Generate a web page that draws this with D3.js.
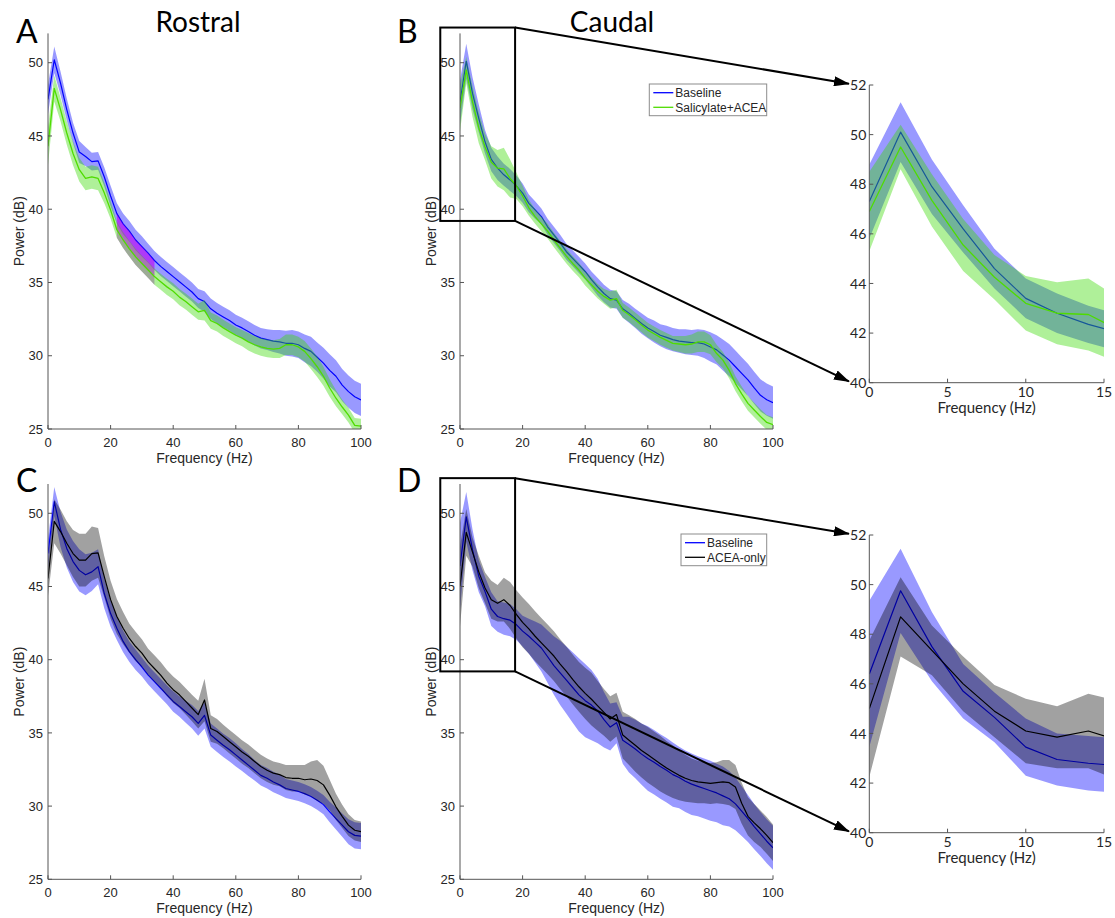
<!DOCTYPE html>
<html><head><meta charset="utf-8">
<script src="https://cdn.jsdelivr.net/npm/d3@7"></script>
<style>body{margin:0;background:#fff} svg{display:block}</style>
</head><body>
<svg id="fig" width="1115" height="918"></svg>
<script>
// ---------------- DATA ----------------
const freqs = [0,2,4,6,8,10,12,14,16,18,20,22,24,26,28,30,32,34,36,38,40,42,44,46,48,50,52,54,56,58,60,62,64,66,68,70,72,74,76,78,80,82,84,86,88,90,92,94,96,98,100];

// Panel A (Rostral): Baseline vs Salicylate+ACEA
const aBlueMean = [47.5,50.2,48.6,46.8,45.2,43.9,43.6,43.25,43.3,42.2,40.9,39.7,39.0,38.5,37.9,37.45,37.0,36.5,36.1,35.75,35.4,35.05,34.7,34.35,33.9,33.7,33.2,32.9,32.65,32.4,32.1,31.9,31.65,31.4,31.2,31.1,31.0,30.95,30.85,30.85,30.75,30.5,30.3,29.9,29.5,29.0,28.6,28.0,27.55,27.2,26.98];
const aBlueErr  = [1.0,0.9,0.8,0.75,0.7,0.75,0.65,0.6,0.6,0.65,0.7,0.7,0.7,0.7,0.7,0.7,0.65,0.65,0.65,0.65,0.65,0.65,0.65,0.65,0.65,0.7,0.7,0.7,0.7,0.7,0.7,0.7,0.7,0.7,0.7,0.7,0.75,0.8,0.85,0.9,0.9,0.95,1.0,1.0,1.05,1.1,1.1,1.1,1.1,1.1,1.1];
const aGreenMean = [44.3,48.25,46.8,45.2,43.8,42.7,42.1,42.2,42.1,41.1,39.95,38.6,37.9,37.3,36.75,36.3,35.85,35.4,35.05,34.7,34.4,34.0,33.7,33.35,33.0,33.1,32.4,32.2,31.9,31.65,31.4,31.2,30.95,30.75,30.6,30.5,30.45,30.5,30.75,30.75,30.6,30.3,29.8,29.25,28.6,27.8,27.1,26.5,25.95,25.25,25.2];
const aGreenErr  = [1.3,0.9,0.8,0.8,0.8,0.8,0.8,0.8,0.8,0.7,0.6,0.55,0.55,0.55,0.55,0.55,0.55,0.55,0.55,0.55,0.55,0.55,0.55,0.55,0.55,0.7,0.55,0.55,0.55,0.55,0.55,0.55,0.6,0.6,0.6,0.6,0.6,0.65,0.7,0.7,0.7,0.7,0.7,0.7,0.65,0.6,0.55,0.5,0.5,0.5,0.5];
const aOverlayRange = [22, 34];

// Panel B (Caudal): Baseline vs Salicylate+ACEA
const bBlueMean = [47.3,50.1,47.9,46.2,44.6,43.4,42.8,42.35,42.0,41.6,41.1,40.4,39.95,39.5,38.8,38.25,37.7,37.1,36.65,36.2,35.75,35.2,34.7,34.25,33.9,33.8,33.2,32.9,32.55,32.2,31.9,31.65,31.4,31.25,31.1,31.0,30.95,30.9,30.9,30.8,30.6,30.4,30.05,29.7,29.25,28.8,28.35,27.8,27.3,27.0,26.8];
const bBlueErr  = [1.5,1.2,1.1,0.95,0.8,0.8,0.8,0.75,0.75,0.7,0.65,0.6,0.6,0.55,0.55,0.55,0.55,0.55,0.55,0.55,0.55,0.55,0.6,0.6,0.6,0.6,0.6,0.65,0.65,0.7,0.7,0.75,0.75,0.8,0.8,0.8,0.85,0.85,0.9,0.95,1.0,1.0,1.05,1.1,1.1,1.1,1.1,1.1,1.1,1.1,1.1];
const bGreenMean = [46.9,49.5,47.35,45.55,44.25,43.2,42.8,42.75,42.1,41.6,40.9,40.1,39.5,39.0,38.5,37.9,37.35,36.8,36.3,35.85,35.3,34.85,34.4,34.05,33.8,33.9,33.1,32.8,32.45,32.1,31.75,31.5,31.25,31.05,30.85,30.8,30.75,30.8,30.95,30.95,30.75,30.15,29.7,29.0,28.1,27.4,26.75,26.3,25.85,25.45,25.3];
const bGreenErr  = [1.6,0.9,1.05,1.05,0.9,1.1,1.25,1.45,1.3,0.9,0.7,0.55,0.5,0.5,0.5,0.5,0.5,0.5,0.5,0.5,0.5,0.5,0.5,0.5,0.6,0.6,0.5,0.5,0.5,0.5,0.5,0.5,0.5,0.5,0.5,0.55,0.6,0.65,0.7,0.7,0.65,0.6,0.55,0.55,0.5,0.5,0.5,0.5,0.5,0.5,0.5];

// Panel C (Rostral): Baseline vs ACEA-only
const cBlueMean = [47.25,50.8,48.9,47.6,46.7,46.1,45.8,46.0,46.35,44.5,43.15,42.15,41.25,40.55,40.0,39.5,38.95,38.5,38.05,37.6,37.15,36.8,36.45,36.1,35.65,36.2,34.85,34.5,34.15,33.85,33.5,33.15,32.8,32.45,32.1,31.9,31.65,31.45,31.2,31.1,31.0,30.85,30.65,30.4,30.1,29.6,29.15,28.7,28.25,28.0,27.95];
const cBlueErr  = [1.0,1.0,1.2,1.3,1.4,1.45,1.4,1.3,1.2,1.0,0.9,0.8,0.75,0.7,0.7,0.65,0.65,0.65,0.65,0.65,0.7,0.7,0.75,0.8,0.85,0.9,0.8,0.8,0.8,0.8,0.8,0.75,0.75,0.7,0.7,0.7,0.7,0.7,0.65,0.65,0.65,0.65,0.65,0.65,0.65,0.7,0.75,0.8,0.85,0.9,0.9];
const cBlackMean = [45.55,49.45,48.75,47.95,47.25,46.8,46.8,47.25,47.3,45.65,44.1,42.95,42.15,41.45,40.9,40.45,39.85,39.4,38.95,38.4,37.95,37.6,37.15,36.7,36.25,37.25,35.3,35.1,34.75,34.4,34.05,33.7,33.4,33.05,32.7,32.45,32.25,32.15,31.95,31.9,31.9,31.8,31.85,31.75,31.45,30.75,29.95,29.3,28.7,28.35,28.25];
const cBlackErr  = [1.2,1.5,1.5,1.5,1.6,1.8,1.8,1.85,1.7,1.4,1.3,1.2,1.1,1.0,1.0,0.95,0.9,0.9,0.9,0.9,0.9,0.9,0.9,0.9,0.95,1.45,0.9,0.85,0.8,0.8,0.8,0.8,0.8,0.8,0.8,0.8,0.8,0.8,0.85,0.9,0.9,1.0,1.2,1.4,1.3,1.05,0.9,0.8,0.75,0.7,0.7];

// Panel D (Caudal): Baseline vs ACEA-only
const dBlueMean = [46.4,49.75,47.5,45.7,44.65,43.45,42.95,42.8,42.7,42.4,41.95,41.6,41.2,40.8,40.2,39.6,39.1,38.6,38.1,37.6,37.2,36.9,36.5,35.9,35.4,35.7,34.5,34.2,33.9,33.55,33.25,33.0,32.7,32.45,32.15,31.95,31.7,31.5,31.35,31.2,31.05,30.9,30.7,30.5,30.15,29.65,29.15,28.6,28.1,27.6,27.15];
const dBlueErr  = [2.95,1.7,1.4,1.1,1.0,1.15,1.05,1.1,1.1,1.05,1.05,1.2,1.4,1.6,1.8,2.0,2.2,2.3,2.4,2.5,2.5,2.4,2.2,1.9,1.6,1.4,1.6,1.9,2.0,2.1,2.2,2.2,2.2,2.2,2.2,2.1,2.1,2.1,2.05,2.05,2.05,2.0,2.0,1.9,1.8,1.7,1.6,1.55,1.5,1.5,1.5];
const dBlackMean = [45.0,48.7,47.35,46.0,44.9,44.1,43.85,44.1,43.7,43.1,42.55,42.1,41.6,41.15,40.7,40.25,39.7,39.2,38.65,38.15,37.7,37.3,36.85,36.4,35.95,36.25,34.85,34.5,34.15,33.8,33.5,33.2,32.9,32.6,32.35,32.1,31.9,31.75,31.65,31.6,31.55,31.6,31.65,31.6,31.3,30.2,29.3,28.85,28.45,28.0,27.5];
const dBlackErr  = [2.75,1.6,1.0,1.1,1.05,1.3,1.25,1.5,1.6,1.65,1.7,1.7,1.7,1.7,1.7,1.7,1.7,1.7,1.7,1.7,1.75,1.8,1.7,1.6,1.55,1.5,1.6,1.7,1.8,1.85,1.9,1.9,1.9,1.85,1.8,1.7,1.6,1.5,1.45,1.4,1.4,1.4,1.5,1.55,1.5,1.4,1.3,1.3,1.25,1.25,1.25];

// Axes
const mainFreqDomain = [0, 100];
const mainPowerDomain = [25, 52];
const mainFreqTicks = [0, 20, 40, 60, 80, 100];
const mainPowerTicks = [25, 30, 35, 40, 45, 50];
const insetFreqDomain = [0, 15];
const insetPowerDomain = [40, 52];
const insetFreqTicks = [0, 5, 10, 15];
const insetPowerTicks = [40, 42, 44, 46, 48, 50, 52];
const zoomBoxFreq = [-6.3, 17.6];
const zoomBoxPower = [39.2, 52.4];
const arrowTargetFreq = -1.3;
const arrowTargetPower = [52.05, 40.05];

const panelLetters = ["A", "B", "C", "D"];
const columnTitles = ["Rostral", "Caudal"];
const legendB = ["Baseline", "Salicylate+ACEA"];
const legendD = ["Baseline", "ACEA-only"];
const xLabel = "Frequency (Hz)";
const yLabel = "Power (dB)";

// ---------------- STYLE ----------------
const BLUE = "#0000ff", GREEN_FILL = "#37d900", GREEN_LINE = "#4fdc00", BLACK = "#000000";
const TICKFONT = "'Liberation Sans', Arial, sans-serif";
const TITLEFONT = "Lato, 'Open Sans', sans-serif";
const AXIS = "#555";

const svg = d3.select("#fig");
const defs = svg.append("defs");
defs.append("marker").attr("id","arrow").attr("markerUnits","userSpaceOnUse")
  .attr("viewBox","0 0 16 10").attr("refX",15).attr("refY",5)
  .attr("markerWidth",16).attr("markerHeight",10).attr("orient","auto")
  .append("path").attr("d","M0,0 L16,5 L0,10 Z").attr("fill","#000");

let clipId = 0;
function makePanel(box, xDom, yDom, xTicks, yTicks, series, opts) {
  const x = d3.scaleLinear().domain(xDom).range([box.x0, box.x1]);
  const y = d3.scaleLinear().domain(yDom).range([box.yB, box.yT]);
  const id = "clip" + (clipId++);
  defs.append("clipPath").attr("id", id).append("rect")
    .attr("x", box.x0).attr("y", box.yT).attr("width", box.x1 - box.x0).attr("height", box.yB - box.yT);
  const g = svg.append("g");
  const plot = g.append("g").attr("clip-path", `url(#${id})`);
  const idx = d3.range(freqs.length);
  series.forEach(s => {
    plot.append("path").datum(idx)
      .attr("d", d3.area().x(i => x(freqs[i])).y0(i => y(s.mean[i] - s.err[i])).y1(i => y(s.mean[i] + s.err[i])))
      .attr("fill", s.fill).attr("fill-opacity", s.alpha).attr("stroke", "none");
    if (s.overlay) {
      const ov = s.overlay;
      const oi = idx.filter(i => freqs[i] >= ov.range[0] && freqs[i] <= ov.range[1]);
      plot.append("path").datum(oi)
        .attr("d", d3.area().x(i => x(freqs[i])).y0(i => y(ov.bottom[i] - (ov.bottomErr ? ov.bottomErr[i] : 0))).y1(i => y(ov.top[i])))
        .attr("fill", "#bc00f5").attr("fill-opacity", ov.alpha);
    }
    plot.append("path").datum(idx)
      .attr("d", d3.line().x(i => x(freqs[i])).y(i => y(s.mean[i])))
      .attr("fill", "none").attr("stroke", s.line).attr("stroke-width", s.lw).attr("stroke-linejoin","round");
  });
  // axes (MATLAB style: inward ticks, box off)
  const ax = g.append("g").attr("stroke", AXIS).attr("stroke-width", 1).attr("fill","none");
  ax.append("line").attr("x1", box.x0).attr("x2", box.x1).attr("y1", box.yB).attr("y2", box.yB);
  ax.append("line").attr("x1", box.x0).attr("x2", box.x0).attr("y1", box.yT).attr("y2", box.yB);
  xTicks.forEach(t => ax.append("line").attr("x1", x(t)).attr("x2", x(t)).attr("y1", box.yB).attr("y2", box.yB - 4));
  yTicks.forEach(t => ax.append("line").attr("x1", box.x0).attr("x2", box.x0 + 4).attr("y1", y(t)).attr("y2", y(t)));
  const tl = g.append("g").attr("font-family", opts.tickFont).attr("font-size", opts.tickSize).attr("fill", "#262626");
  xTicks.forEach(t => tl.append("text").attr("x", x(t)).attr("y", box.yB + opts.xTickDy).attr("text-anchor","middle").text(t));
  yTicks.forEach(t => tl.append("text").attr("x", box.x0 - opts.yTickDx).attr("y", y(t)).attr("dy","0.36em").attr("text-anchor","end").text(t));
  g.append("text").attr("x", (box.x0 + box.x1) / 2).attr("y", box.yB + opts.xLabelDy)
    .attr("text-anchor","middle").attr("font-family", opts.labelFont).attr("font-size", opts.labelSize).attr("fill","#262626").text(xLabel);
  if (opts.yLabel) {
    g.append("text").attr("transform", `translate(${box.x0 - 24},${(box.yT + box.yB) / 2}) rotate(-90)`)
      .attr("text-anchor","middle").attr("font-family", opts.labelFont).attr("font-size", opts.labelSize).attr("fill","#262626").text(yLabel);
  }
  return {x, y};
}

const mainOpts = {tickFont: TICKFONT, tickSize: 13, xTickDy: 17.5, yTickDx: 5, labelFont: TICKFONT, labelSize: 14, xLabelDy: 34, yLabel: true};
const insetOpts = {tickFont: TITLEFONT, tickSize: 14, xTickDy: 14, yTickDx: 3, labelFont: TITLEFONT, labelSize: 15, xLabelDy: 30.5, yLabel: false};

const boxes = {
  A: {x0: 48, x1: 361, yT: 33.4, yB: 429},
  B: {x0: 460, x1: 773, yT: 33.4, yB: 429},
  C: {x0: 48, x1: 361, yT: 484, yB: 879.3},
  D: {x0: 460, x1: 773, yT: 484, yB: 879.3},
  BI: {x0: 869.3, x1: 1104, yT: 85, yB: 382.7},
  DI: {x0: 869.3, x1: 1104, yT: 535, yB: 832.7}
};

const blueS = (m, e) => ({mean: m, err: e, fill: BLUE, alpha: 0.4, line: BLUE, lw: 1.2});
const greenS = (m, e) => ({mean: m, err: e, fill: GREEN_FILL, alpha: 0.4, line: GREEN_LINE, lw: 1.3});
const blackS = (m, e) => ({mean: m, err: e, fill: BLACK, alpha: 0.37, line: BLACK, lw: 1.2});

const blueA = blueS(aBlueMean, aBlueErr);
blueA.overlay = {range: aOverlayRange, top: aBlueMean, bottom: aGreenMean, bottomErr: aGreenErr, alpha: 0.45};
const greenA = greenS(aGreenMean, aGreenErr);
greenA.overlay = {range: aOverlayRange, top: aBlueMean, bottom: aGreenMean, alpha: 0.3};

makePanel(boxes.A, mainFreqDomain, mainPowerDomain, mainFreqTicks, mainPowerTicks, [blueA, greenA], mainOpts);
const pB = makePanel(boxes.B, mainFreqDomain, mainPowerDomain, mainFreqTicks, mainPowerTicks, [blueS(bBlueMean, bBlueErr), greenS(bGreenMean, bGreenErr)], mainOpts);
makePanel(boxes.C, mainFreqDomain, mainPowerDomain, mainFreqTicks, mainPowerTicks, [blueS(cBlueMean, cBlueErr), blackS(cBlackMean, cBlackErr)], mainOpts);
const pD = makePanel(boxes.D, mainFreqDomain, mainPowerDomain, mainFreqTicks, mainPowerTicks, [blueS(dBlueMean, dBlueErr), blackS(dBlackMean, dBlackErr)], mainOpts);
const pBI = makePanel(boxes.BI, insetFreqDomain, insetPowerDomain, insetFreqTicks, insetPowerTicks, [blueS(bBlueMean, bBlueErr), greenS(bGreenMean, bGreenErr)], insetOpts);
const pDI = makePanel(boxes.DI, insetFreqDomain, insetPowerDomain, insetFreqTicks, insetPowerTicks, [blueS(dBlueMean, dBlueErr), blackS(dBlackMean, dBlackErr)], insetOpts);

// zoom boxes + arrows
function zoomAnno(p, pi) {
  const xL = p.x(zoomBoxFreq[0]), xR = p.x(zoomBoxFreq[1]);
  const yT = p.y(zoomBoxPower[1]), yBt = p.y(zoomBoxPower[0]);
  svg.append("rect").attr("x", xL).attr("y", yT).attr("width", xR - xL).attr("height", yBt - yT)
    .attr("fill","none").attr("stroke","#000").attr("stroke-width", 2);
  [[yT, arrowTargetPower[0]], [yBt, arrowTargetPower[1]]].forEach(([y0, tp]) => {
    svg.append("line").attr("x1", xR).attr("y1", y0).attr("x2", pi.x(arrowTargetFreq)).attr("y2", pi.y(tp))
      .attr("stroke","#000").attr("stroke-width", 2).attr("marker-end","url(#arrow)");
  });
}
zoomAnno(pB, pBI);
zoomAnno(pD, pDI);

// legends
function legend(x0, y0, w, items) {
  const g = svg.append("g");
  g.append("rect").attr("x", x0).attr("y", y0).attr("width", w).attr("height", 31.7)
    .attr("fill","#fff").attr("stroke","#8c8c8c").attr("stroke-width", 1);
  items.forEach((it, k) => {
    const yy = y0 + 8.7 + k * 14.6;
    g.append("line").attr("x1", x0 + 4).attr("x2", x0 + 24).attr("y1", yy).attr("y2", yy)
      .attr("stroke", it.color).attr("stroke-width", 1.3);
    g.append("text").attr("x", x0 + 26).attr("y", yy).attr("dy","0.36em")
      .attr("font-family", TICKFONT).attr("font-size", 12).attr("fill","#262626").text(it.name);
  });
}
legend(649.3, 84, 117.4, [{name: legendB[0], color: BLUE}, {name: legendB[1], color: GREEN_LINE}]);
legend(681, 534, 85.7, [{name: legendD[0], color: BLUE}, {name: legendD[1], color: BLACK}]);

// titles and panel letters
const T = svg.append("g").attr("font-family", TITLEFONT).attr("fill", "#000");
T.append("text").attr("x", 198).attr("y", 32).attr("text-anchor","middle").attr("font-size", 28).text(columnTitles[0]);
T.append("text").attr("x", 612).attr("y", 32).attr("text-anchor","middle").attr("font-size", 28).text(columnTitles[1]);
[[16, 43], [397, 43], [16, 492], [397, 492]].forEach((p, k) =>
  T.append("text").attr("x", p[0]).attr("y", p[1]).attr("font-size", 32).text(panelLetters[k]));
</script>
</body></html>
